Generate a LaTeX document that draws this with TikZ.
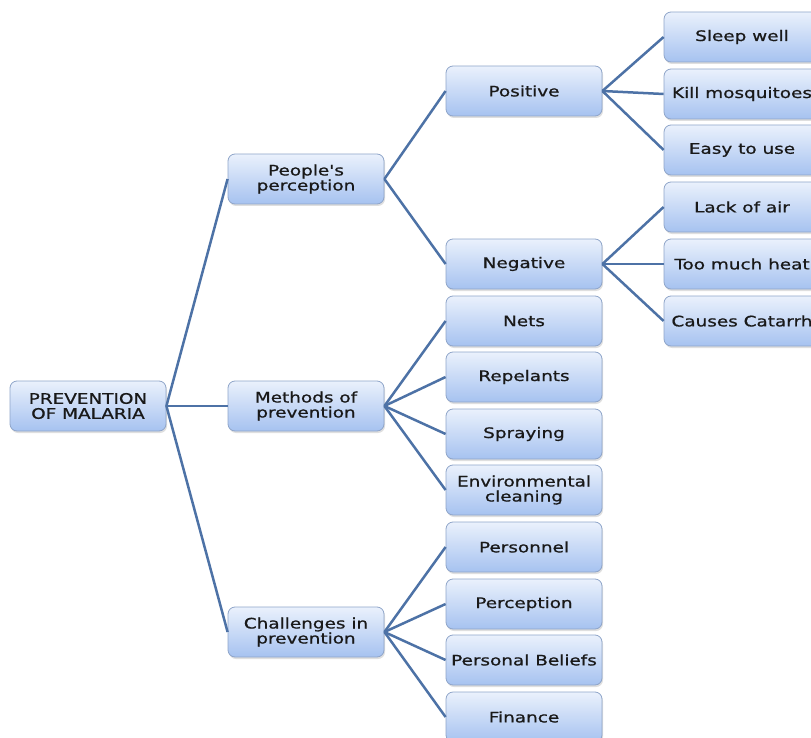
\documentclass[tikz,border=0pt]{standalone}
\usepackage{fontspec}
\newfontfamily\boxfont[FakeStretch=1.27,FakeBold=0.8]{DejaVu Sans}
\usetikzlibrary{shadows}
\definecolor{boxtop}{HTML}{EAF1FC}
\definecolor{boxbot}{HTML}{A6C2F0}
\definecolor{boxline}{HTML}{8FA5C9}
\definecolor{conn}{HTML}{4D72A6}
\begin{document}
\begin{tikzpicture}[x=1pt,y=-1pt,
  bx/.style={rectangle, rounded corners=7pt, draw=boxline, line width=0.8pt,
    top color=boxtop, bottom color=boxbot, minimum width=156pt, minimum height=50pt,
    inner sep=0pt, align=center, text=black!90,
    font=\boxfont\fontsize{14.5}{15}\selectfont,
    drop shadow={opacity=0.25, shadow xshift=1pt, shadow yshift=-2pt}},
  cn/.style={draw=conn, line width=2.5pt}]
\useasboundingbox (0,0) rectangle (811,738);
\clip (0,0) rectangle (811,738);
% root
\node[bx] (root) at (88,406) {PREVENTION\\OF MALARIA};
% level 1
\node[bx] (pp) at (306,179) {People's\\perception};
\node[bx] (mp) at (306,406) {Methods of\\prevention};
\node[bx] (cp) at (306,632) {Challenges in\\prevention};
% level 2
\node[bx] (pos) at (524,91) {Positive};
\node[bx] (neg) at (524,264) {Negative};
\node[bx] (nets) at (524,321) {Nets};
\node[bx] (rep) at (524,377) {Repelants};
\node[bx] (spr) at (524,434) {Spraying};
\node[bx] (env) at (524,490) {Environmental\\cleaning};
\node[bx] (pers) at (524,547) {Personnel};
\node[bx] (perc) at (524,604) {Perception};
\node[bx] (bel) at (524,660) {Personal Beliefs};
\node[bx] (fin) at (524,717) {Finance};
% level 3
\node[bx] (sleep) at (742,37) {Sleep well};
\node[bx] (kill) at (742,94) {Kill mosquitoes};
\node[bx] (easy) at (742,150) {Easy to use};
\node[bx] (lack) at (742,207) {Lack of air};
\node[bx] (heat) at (742,264) {Too much heat};
\node[bx] (cat) at (742,321) {Causes Catarrh};
% connectors
\foreach \c in {pp,mp,cp} \draw[cn] (root.east) -- (\c.west);
\foreach \c in {pos,neg} \draw[cn] (pp.east) -- (\c.west);
\foreach \c in {nets,rep,spr,env} \draw[cn] (mp.east) -- (\c.west);
\foreach \c in {pers,perc,bel,fin} \draw[cn] (cp.east) -- (\c.west);
\foreach \c in {sleep,kill,easy} \draw[cn] (pos.east) -- (\c.west);
\foreach \c in {lack,heat,cat} \draw[cn] (neg.east) -- (\c.west);
\end{tikzpicture}
\end{document}
